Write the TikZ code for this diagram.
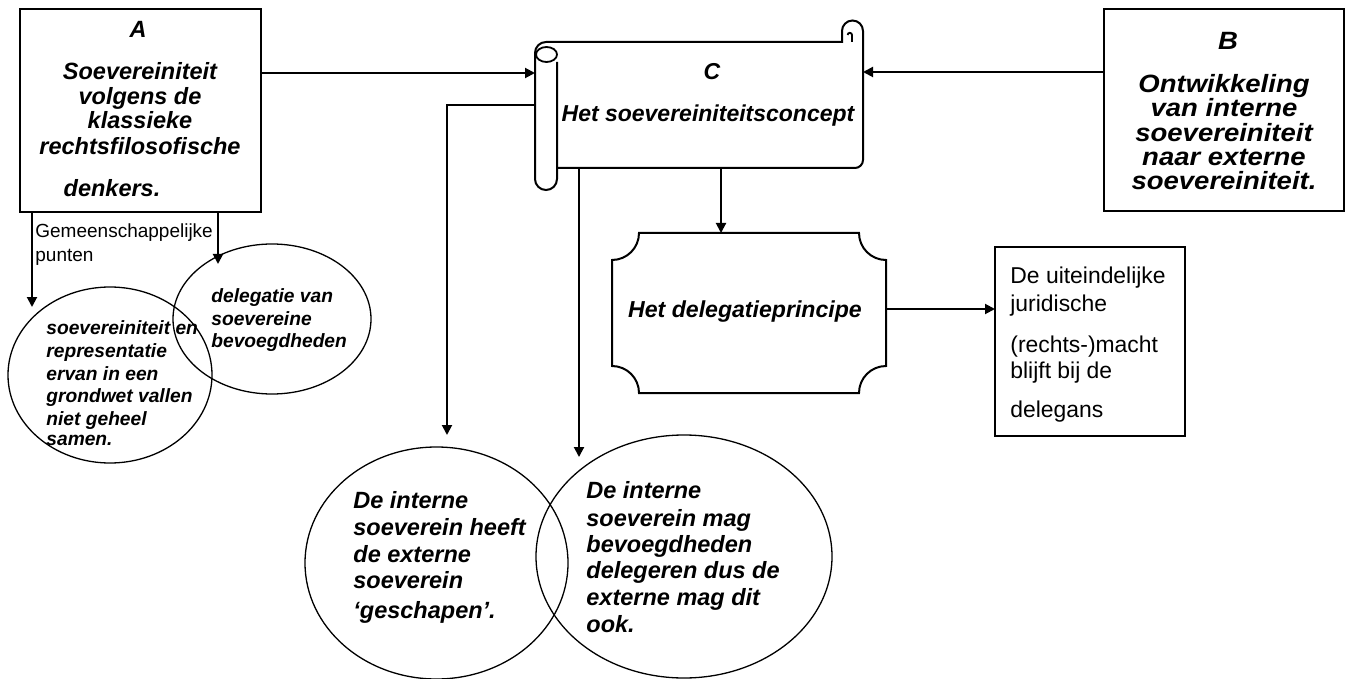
\documentclass[tikz,border=0pt]{standalone}
\usepackage{fontspec}
\setmainfont{Liberation Sans}
\usepackage{graphicx}
\usetikzlibrary{arrows.meta,shapes.geometric}

% horizontal stretch of a text line
\newcommand\hsx[2]{\scalebox{#1}[1]{#2}}

\begin{document}
\begin{tikzpicture}[x=0.5pt,y=-0.5pt,
  frame/.style={draw, line width=1pt, inner sep=0, outer sep=0},
  ghost/.style={inner sep=0, outer sep=0},
  bubble/.style={draw, ellipse, line width=0.65pt, inner sep=0, outer sep=0},
  arr/.style={draw, line width=1pt, -{Triangle[length=5pt,width=5pt]}},
  outline/.style={draw, line width=1pt},
  lbl/.style={inner sep=0, anchor=base},
  lblw/.style={inner sep=0, anchor=base west},
  bi/.style={font=\fontsize{#1}{#1}\selectfont\bfseries\itshape},
  rg/.style={font=\fontsize{#1}{#1}\selectfont},
]
\useasboundingbox (0,0) rectangle (1348,679);

% ---- boxes ----
\node[frame, minimum width=120.5pt, minimum height=101.5pt] (A) at (140.5,110.5) {};
\node[frame, minimum width=120pt, minimum height=101pt] (B) at (1224,110) {};
\node[frame, minimum width=95pt, minimum height=94.5pt] (D) at (1090,341.5) {};

% ---- scroll C ----
\node[ghost, minimum width=164pt, minimum height=63pt] (C) at (699,105.5) {};
\draw[outline] (546,42) arc(270:180:11) -- (535,179) arc(180:0:11) -- (557,62);
\draw[line width=0.9pt] (546.5,54.5) ellipse [x radius=10.5, y radius=7.5];
\draw[outline] (546,42) -- (842,42) -- (842,31) arc(180:360:10.5) -- (863,160)
  arc(0:90:8) -- (557,168);
\draw[line width=0.9pt] (852,42) -- (852,35) arc(0:-180:2.2);

% ---- plaque P ----
\node[ghost, minimum width=137pt, minimum height=80pt] (P) at (749,313) {};
\draw[outline] (639,233) -- (859,233) arc(180:90:27) -- (886,366) arc(270:180:27)
  -- (639,393) arc(0:-90:27) -- (612,260) arc(90:0:27) -- cycle;

% ---- ellipses ----
\node[bubble, minimum width=102pt, minimum height=88pt] (E1) at (110,375) {};
\node[bubble, minimum width=99pt, minimum height=75pt] (E2) at (272,319) {};
\node[bubble, minimum width=131.5pt, minimum height=116pt] (E3) at (436.5,563) {};
\node[bubble, minimum width=148pt, minimum height=121.5pt] (E4) at (684,556.5) {};

% ---- connectors ----
\coordinate (yAC) at (0,73);
\coordinate (yBC) at (0,72);
\coordinate (xCP) at (721,0);
\coordinate (yPD) at (0,309);
\coordinate (yC3) at (0,105);
\coordinate (t1) at (32,307);
\coordinate (t2) at (218,264);
\coordinate (t3) at (447,435);
\coordinate (t4) at (579,457);
\draw[arr] (A.east |- yAC) -- (C.west |- yAC);
\draw[arr] (B.west |- yBC) -- (C.east |- yBC);
\draw[arr] (C.south -| xCP) -- (P.north -| xCP);
\draw[arr] (P.east |- yPD) -- (D.west |- yPD);
\draw[arr] (C.west |- yC3) -| (t3);
\draw[arr] (C.south -| t4) -- (t4);
\draw[arr] (A.south -| t1) -- (t1);
\draw[arr] (A.south -| t2) -- (t2);

% ---- texts ----
\node[lbl, bi=11.75] (A0) at (138,38) {A};
\foreach \t/\y [count=\i] in {Soevereiniteit/80, volgens de/105, klassieke/129, rechtsfilosofische/155}
  \node[lbl, bi=11.75] (A\i) at (140,\y) {\t};
\node[lbl, bi=11.75] (A5) at (112,197) {denkers.};

\node[lbl, bi=12.5] (B0) at (1228,50) {\hsx{1.1}{B}};
\foreach \t/\y [count=\i] in {Ontwikkeling/93, van interne/117, soevereiniteit/142, naar externe/166, soevereiniteit./190}
  \node[lbl, bi=12.5] (B\i) at (1224,\y) {\hsx{1.1}{\t}};

\node[lbl, bi=11.5] (C0) at (712,80) {C};
\node[lbl, bi=11.5] (C1) at (708,122) {Het soevereiniteitsconcept};

\node[lbl, bi=11.55] (P1) at (745,317) {Het delegatieprincipe};

\node[lblw, rg=9.5] (G1) at (35,238) {Gemeenschappelijke};
\node[lblw, rg=9.5] (G2) at (35,262) {punten};

\foreach \t/\y [count=\i] in {soevereiniteit en/334, representatie/357, ervan in een/380, grondwet vallen/402, niet geheel/425, samen./445}
  \node[lblw, bi=9.6] (e1\i) at (46,\y) {\t};
\foreach \t/\y [count=\i] in {delegatie van/302, soevereine/325, bevoegdheden/347}
  \node[lblw, bi=9.6] (e2\i) at (211,\y) {\t};
\foreach \t/\y [count=\i] in {De interne/508, soeverein heeft/535, de externe/562, soeverein/588, ‘geschapen’./618}
  \node[lblw, bi=11.75] (e3\i) at (353,\y) {\t};
\foreach \t/\y [count=\i] in {De interne/498, soeverein mag/526, bevoegdheden/552, delegeren dus de/578, externe mag dit/605, ook./632}
  \node[lblw, bi=11.75] (e4\i) at (586,\y) {\t};

\foreach \t/\y [count=\i] in {De uiteindelijke/284, juridische/311, (rechts-)macht/352, blijft bij de/378, delegans/417}
  \node[lblw, rg=11.45] (d\i) at (1010,\y) {\t};
\end{tikzpicture}
\end{document}
